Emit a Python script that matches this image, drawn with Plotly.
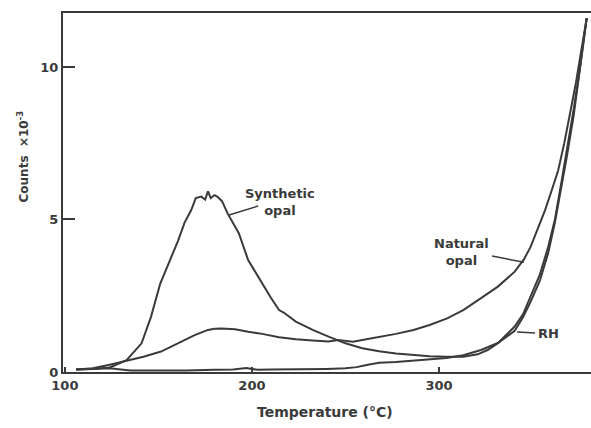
import plotly.graph_objects as go

# Synthetic opal
syn_T = [106, 115, 124, 133, 141, 146, 151, 157, 160.5, 164, 167.5, 170, 173, 175, 176.5, 178, 180, 181.5, 184, 187,
         193, 198, 205.5, 210, 214.5, 217, 223.5, 232.5, 241, 250, 259, 268, 277, 286, 295, 304, 313, 320.7, 326,
         331.5, 336, 340.5, 345, 349, 354, 358.4, 362, 365.7, 368.5, 372, 375, 379]
syn_V = [0.08, 0.1, 0.15, 0.39, 0.94, 1.8, 2.9, 3.8, 4.3, 4.9, 5.3, 5.7, 5.75, 5.65, 5.92, 5.7, 5.8, 5.75, 5.6, 5.2,
         4.55, 3.67, 2.9, 2.45, 2.03, 1.95, 1.65, 1.38, 1.16, 0.94, 0.78, 0.68, 0.61, 0.56, 0.52, 0.5, 0.5, 0.58, 0.72,
         0.94, 1.2, 1.49, 1.9, 2.47, 3.2, 4.1, 5.0, 6.3, 7.3, 8.6, 9.8, 11.6]

# Natural opal
nat_T = [106, 115, 124, 133, 142, 151.4, 160.5, 169.4, 176.5, 180, 183.8, 191, 198, 205.5, 214.5, 223.5, 232.5, 241,
         246, 250, 254, 259, 268, 277, 286.4, 295, 304.4, 313, 322.5, 331.5, 340.5, 345.5, 349, 353, 356.7, 360,
         363.7, 367, 370, 373, 376, 379]
nat_V = [0.08, 0.12, 0.24, 0.36, 0.5, 0.67, 0.94, 1.21, 1.38, 1.42, 1.43, 1.4, 1.32, 1.25, 1.14, 1.07, 1.03, 1.0,
         1.05, 1.03, 0.99, 1.05, 1.14, 1.25, 1.38, 1.54, 1.76, 2.03, 2.42, 2.8, 3.29, 3.7, 4.1, 4.7, 5.3, 5.9,
         6.6, 7.5, 8.4, 9.4, 10.5, 11.6]

# RH
rh_T = [106, 115, 124, 135, 150, 165, 180, 190, 197, 203, 210, 225, 240, 250, 256, 262, 268, 277, 286, 295, 304,
        313, 322.5, 331.5, 340.5, 345, 349, 354, 358.4, 362, 365.7, 368.5, 372, 375, 379]
rh_V = [0.08, 0.1, 0.12, 0.05, 0.04, 0.05, 0.07, 0.08, 0.13, 0.07, 0.08, 0.08, 0.1, 0.12, 0.16, 0.24, 0.3, 0.33,
        0.37, 0.41, 0.46, 0.55, 0.72, 0.95, 1.35, 1.8, 2.3, 3.0, 3.9, 4.9, 6.1, 7.1, 8.4, 9.7, 11.6]

x_ticks = [100, 200, 300]
y_ticks = [0, 5, 10]

INK = "#3a3a3a"
FONT = "DejaVu Sans"

fig = go.Figure()
for T, V in [(syn_T, syn_V), (nat_T, nat_V), (rh_T, rh_V)]:
    fig.add_trace(go.Scatter(x=T, y=V, mode="lines", line=dict(color=INK, width=2), showlegend=False))

# labels and leader lines
labels = [
    dict(text="<b>Synthetic<br>opal</b>", x=215, y=5.59),
    dict(text="<b>Natural<br>opal</b>", x=312, y=3.95),
    dict(text="<b>RH</b>", x=358.5, y=1.25),
]
for a in labels:
    fig.add_annotation(x=a["x"], y=a["y"], text=a["text"], showarrow=False,
                       font=dict(family=FONT, size=13, color=INK), xanchor="center", yanchor="middle",
                       align="center")

leaders = [
    (187.8, 5.15, 203.3, 5.44),
    (328.4, 3.8, 345.5, 3.6),
    (341.8, 1.31, 351.4, 1.28),
]
for x0, y0, x1, y1 in leaders:
    fig.add_shape(type="line", x0=x0, y0=y0, x1=x1, y1=y1, line=dict(color=INK, width=1.5))

fig.add_annotation(xref="paper", yref="paper", x=0.496, y=-0.111, text="<b>Temperature (°C)</b>", showarrow=False,
                   font=dict(family=FONT, size=14, color=INK), xanchor="center", yanchor="middle")
fig.add_annotation(xref="paper", yref="paper", x=-0.076, y=0.6, text="<b>Counts  ×10<sup>-3</sup></b>",
                   showarrow=False, textangle=-90, font=dict(family=FONT, size=12, color=INK),
                   xanchor="center", yanchor="middle")

fig.update_layout(
    width=591, height=428,
    margin=dict(l=63, r=0, t=13, b=56),
    paper_bgcolor="white", plot_bgcolor="white",
    font=dict(family=FONT, size=13, color=INK),
)
fig.update_xaxes(range=[99, 381.3], tickvals=x_ticks, ticktext=[f"<b>{v}</b>" for v in x_ticks],
                 showline=True, linecolor=INK, linewidth=2, mirror=True, ticks="inside", ticklen=5,
                 tickcolor=INK, tickwidth=1.5, showgrid=False, zeroline=False)
fig.update_yaxes(range=[0, 11.77], tickvals=y_ticks, ticktext=[f"<b>{v}</b>" for v in y_ticks],
                 showline=True, linecolor=INK, linewidth=2, ticks="inside", ticklen=12,
                 tickcolor=INK, tickwidth=1.5, showgrid=False, zeroline=False)

fig.write_html("out.html", config={"displayModeBar": False},
               post_script="document.body.style.margin='0';document.body.style.overflow='hidden';")
